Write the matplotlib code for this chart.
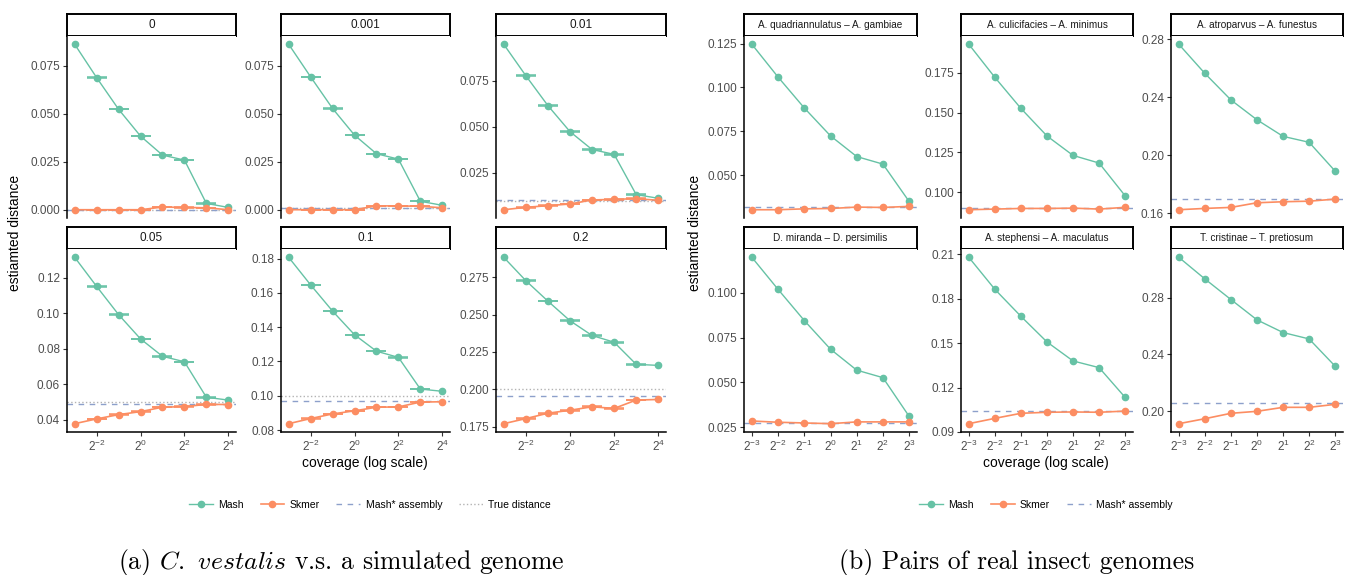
import matplotlib
matplotlib.use("Agg")
import matplotlib.pyplot as plt
from matplotlib.lines import Line2D

plt.rcParams['font.family'] = ['Liberation Sans', 'DejaVu Sans']
plt.rcParams['mathtext.fontset'] = 'custom'
plt.rcParams['mathtext.rm'] = 'Liberation Sans'
plt.rcParams['mathtext.it'] = 'Liberation Sans:italic'

MASH = '#66C2A5'
SKMER = '#FC8D62'
ASM = '#8DA0CB'
TRUE = '#B3B3B3'

# ---- (a) C. vestalis vs simulated genome, coverage 2^-3 .. 2^4 ----
sim_x = [-3, -2, -1, 0, 1, 2, 3, 4]
sim_titles = ['0', '0.001', '0.01', '0.05', '0.1', '0.2']
sim_mash = [
    [0.0863, 0.0689, 0.0524, 0.0384, 0.0285, 0.0259, 0.0033, 0.0012],
    [0.0863, 0.0693, 0.0528, 0.0389, 0.0292, 0.0264, 0.0044, 0.0023],
    [0.0947, 0.0777, 0.0615, 0.0474, 0.0377, 0.0351, 0.0133, 0.0113],
    [0.1315, 0.1151, 0.0992, 0.0855, 0.0757, 0.0726, 0.0526, 0.0510],
    [0.1808, 0.1647, 0.1494, 0.1356, 0.1260, 0.1224, 0.1039, 0.1026],
    [0.2883, 0.2727, 0.2590, 0.2459, 0.2360, 0.2315, 0.2167, 0.2160],
]
sim_mash_err = [
    [0, 0.0001, 0.0001, 0.0001, 0.0001, 0.0001, 0.0001, 0],
    [0, 0.0001, 0.0001, 0.0001, 0.0001, 0.0001, 0.0001, 0],
    [0, 0.0001, 0.0001, 0.0001, 0.0001, 0.0001, 0.0001, 0],
    [0, 0.00015, 0.00015, 0.00015, 0.00015, 0.00015, 0.00015, 0],
    [0, 0.00015, 0.00015, 0.00015, 0.00015, 0.00015, 0.00015, 0],
    [0, 0.0003, 0.00025, 0.00025, 0.00025, 0.00025, 0.00025, 0],
]
sim_skmer = [
    [0.0000, 0.0000, 0.0000, 0.0000, 0.0014, 0.0012, 0.0010, 0.0000],
    [0.0000, 0.0000, 0.0000, 0.0000, 0.0020, 0.0020, 0.0018, 0.0010],
    [0.0051, 0.0064, 0.0073, 0.0082, 0.0104, 0.0107, 0.0111, 0.0102],
    [0.0377, 0.0404, 0.0428, 0.0445, 0.0470, 0.0473, 0.0486, 0.0485],
    [0.0837, 0.0867, 0.0894, 0.0912, 0.0933, 0.0935, 0.0963, 0.0965],
    [0.1770, 0.1804, 0.1840, 0.1860, 0.1883, 0.1872, 0.1928, 0.1932],
]
sim_skmer_err = [
    [0, 0.0001, 0.0001, 0.0001, 0.0001, 0.0001, 0.0001, 0],
    [0, 0.0001, 0.0001, 0.0001, 0.0001, 0.0001, 0.0001, 0],
    [0, 0.0001, 0.0001, 0.0001, 0.0001, 0.0001, 0.0001, 0],
    [0, 0.00015, 0.00015, 0.00015, 0.00015, 0.00015, 0.00015, 0],
    [0, 0.00015, 0.00015, 0.00015, 0.00015, 0.00015, 0.00015, 0],
    [0, 0.0003, 0.00025, 0.00025, 0.00025, 0.00025, 0.00025, 0],
]
sim_assembly = [0.0, 0.001, 0.0104, 0.0490, 0.0970, 0.1953]
sim_true = [0.0, 0.001, 0.01, 0.05, 0.1, 0.2]
sim_yticks = [
    ['0.000', '0.025', '0.050', '0.075'],
    ['0.000', '0.025', '0.050', '0.075'],
    ['0.025', '0.050', '0.075'],
    ['0.04', '0.06', '0.08', '0.10', '0.12'],
    ['0.08', '0.10', '0.12', '0.14', '0.16', '0.18'],
    ['0.175', '0.200', '0.225', '0.250', '0.275'],
]
sim_xticks = [-2, 0, 2, 4]

# ---- (b) pairs of real insect genomes, coverage 2^-3 .. 2^3 ----
real_x = [-3, -2, -1, 0, 1, 2, 3]
real_titles = ['A. quadriannulatus \u2013 A. gambiae', 'A. culicifacies \u2013 A. minimus',
               'A. atroparvus \u2013 A. funestus', 'D. miranda \u2013 D. persimilis',
               'A. stephensi \u2013 A. maculatus', 'T. cristinae \u2013 T. pretiosum']
real_mash = [
    [0.1246, 0.1059, 0.0883, 0.0724, 0.0606, 0.0563, 0.0350],
    [0.1929, 0.1721, 0.1526, 0.1353, 0.1231, 0.1183, 0.0977],
    [0.2766, 0.2565, 0.2382, 0.2245, 0.2131, 0.2090, 0.1891],
    [0.1199, 0.1020, 0.0846, 0.0686, 0.0569, 0.0527, 0.0311],
    [0.2078, 0.1862, 0.1680, 0.1507, 0.1379, 0.1334, 0.1133],
    [0.3083, 0.2931, 0.2786, 0.2643, 0.2554, 0.2509, 0.2317],
]
real_skmer = [
    [0.0303, 0.0303, 0.0308, 0.0310, 0.0318, 0.0316, 0.0322],
    [0.0890, 0.0894, 0.0898, 0.0898, 0.0900, 0.0894, 0.0905],
    [0.1625, 0.1634, 0.1641, 0.1673, 0.1680, 0.1684, 0.1698],
    [0.0285, 0.0278, 0.0274, 0.0270, 0.0280, 0.0280, 0.0280],
    [0.0956, 0.0992, 0.1026, 0.1033, 0.1035, 0.1033, 0.1041],
    [0.1913, 0.1948, 0.1986, 0.2000, 0.2028, 0.2028, 0.2049],
]
real_assembly = [0.0318, 0.0902, 0.1698, 0.0274, 0.1042, 0.2056]
real_yticks = [
    ['0.050', '0.075', '0.100', '0.125'],
    ['0.100', '0.125', '0.150', '0.175'],
    ['0.16', '0.20', '0.24', '0.28'],
    ['0.025', '0.050', '0.075', '0.100'],
    ['0.09', '0.12', '0.15', '0.18', '0.21'],
    ['0.20', '0.24', '0.28'],
]
real_xticks = [-3, -2, -1, 0, 1, 2, 3]

W, H = 1346, 575
fig = plt.figure(figsize=(W / 100, H / 100), dpi=100)


def px_axes(x0, y0, x1, y1):
    return fig.add_axes([x0 / W, 1 - y1 / H, (x1 - x0) / W, (y1 - y0) / H])


def strip(x0, x1, y0, y1, label, size):
    s = px_axes(x0, y0, x1, y1)
    s.set_xticks([])
    s.set_yticks([])
    for sp in s.spines.values():
        sp.set_linewidth(1.4)
        sp.set_color('black')
    s.text(0.5, 0.48, label, ha='center', va='center', fontsize=size, color='#1A1A1A',
           transform=s.transAxes)


def panel(ax, x, mash, skmer, hlines, yticks, xticks, bottom, mash_err=None, skmer_err=None):
    for y, c, ls in hlines:
        ax.axhline(y, color=c, ls=ls, lw=1.0, zorder=1)
    ax.plot(x, mash, color=MASH, lw=1.0, marker='o', ms=4.5, zorder=3)
    ax.plot(x, skmer, color=SKMER, lw=1.2, marker='o', ms=4.5, zorder=3)
    for vals, err, c in ((mash, mash_err, MASH), (skmer, skmer_err, SKMER)):
        if err is None:
            continue
        idx = [i for i, e in enumerate(err) if e > 0]
        ax.errorbar([x[i] for i in idx], [vals[i] for i in idx], yerr=[err[i] for i in idx],
                    fmt='none', ecolor=c, elinewidth=1.0, capsize=7, capthick=1.1, zorder=2)
    lo = min(min(mash), min(skmer))
    hi = max(max(mash), max(skmer))
    pad = (hi - lo) * 0.05
    ax.set_ylim(lo - pad, hi + pad)
    xr = x[-1] - x[0]
    ax.set_xlim(x[0] - 0.05 * xr, x[-1] + 0.05 * xr)
    ax.set_yticks([float(t) for t in yticks])
    ax.set_yticklabels(yticks)
    ax.spines['top'].set_visible(False)
    ax.spines['right'].set_visible(False)
    ax.spines['left'].set_linewidth(1.1)
    ax.tick_params(axis='y', length=3, width=0.8, color='#333333', labelcolor='#4D4D4D',
                   labelsize=8.5, pad=2)
    if bottom:
        ax.set_xticks(xticks)
        ax.set_xticklabels(['$2^{%d}$' % t for t in xticks])
        ax.spines['bottom'].set_linewidth(1.1)
        ax.tick_params(axis='x', length=3, width=0.8, color='#333333', labelcolor='#4D4D4D',
                       labelsize=8.5, pad=2)
    else:
        ax.spines['bottom'].set_visible(False)
        ax.set_xticks([])


rows = [(14, 36, 218), (227, 249, 432)]
sim_cols = [(67, 236), (281, 450), (496, 666)]
real_cols = [(744, 917), (961, 1133), (1171, 1343)]

for i in range(6):
    r, c = divmod(i, 3)
    st, at, ab = rows[r]
    x0, x1 = sim_cols[c]
    strip(x0, x1, st, at, sim_titles[i], 8.5)
    ax = px_axes(x0, at, x1, ab)
    panel(ax, sim_x, sim_mash[i], sim_skmer[i],
          [(sim_true[i], TRUE, ':'), (sim_assembly[i], ASM, (0, (4, 4)))],
          sim_yticks[i], sim_xticks, r == 1, sim_mash_err[i], sim_skmer_err[i])

    x0, x1 = real_cols[c]
    strip(x0, x1, st, at, real_titles[i], 7.2)
    ax = px_axes(x0, at, x1, ab)
    panel(ax, real_x, real_mash[i], real_skmer[i],
          [(real_assembly[i], ASM, (0, (4, 4)))],
          real_yticks[i], real_xticks, r == 1)

for xc in (15, 695):
    fig.text(xc / W, 1 - 233 / H, 'estiamted distance', rotation=90, ha='center', va='center',
             fontsize=10)
for xc in (365, 1046):
    fig.text(xc / W, 1 - 463 / H, 'coverage (log scale)', ha='center', va='center', fontsize=10)

h_mash = Line2D([], [], color=MASH, lw=1.0, marker='o', ms=4.5)
h_skmer = Line2D([], [], color=SKMER, lw=1.2, marker='o', ms=4.5)
h_asm = Line2D([], [], color=ASM, lw=1.0, ls=(0, (4, 4)))
h_true = Line2D([], [], color=TRUE, lw=1.0, ls=':')
fig.legend([h_mash, h_skmer, h_asm, h_true], ['Mash', 'Skmer', 'Mash* assembly', 'True distance'],
           loc='center', bbox_to_anchor=(370 / W, 1 - 505 / H), ncol=4, frameon=False,
           fontsize=7.5, handlelength=2.3, columnspacing=1.6, handletextpad=0.5)
fig.legend([h_mash, h_skmer, h_asm], ['Mash', 'Skmer', 'Mash* assembly'],
           loc='center', bbox_to_anchor=(1046 / W, 1 - 505 / H), ncol=3, frameon=False,
           fontsize=7.5, handlelength=2.3, columnspacing=1.6, handletextpad=0.5)

fig.text(341 / W, 1 - 562 / H, r'(a) $\mathit{C.}$ $\mathit{vestalis}$ v.s. a simulated genome',
         ha='center', va='center', fontsize=18.5, family='cmr10', math_fontfamily='cm')
fig.text(1017 / W, 1 - 562 / H, '(b) Pairs of real insect genomes',
         ha='center', va='center', fontsize=18.5, family='cmr10', math_fontfamily='cm')

fig.savefig('out.png', dpi=100)
